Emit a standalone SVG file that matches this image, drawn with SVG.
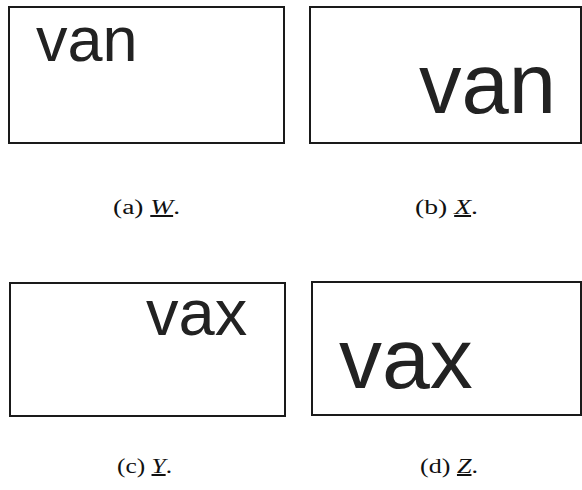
<svg xmlns="http://www.w3.org/2000/svg" width="582" height="490" viewBox="0 0 582 490">
<style>
.box{fill:#fff;stroke:#1a1a1a;stroke-width:2}
.word{font-family:"Liberation Sans",Arial,sans-serif;fill:#222}
.cap{font-family:"Liberation Serif","Times New Roman",serif;font-size:20px;fill:#111}
.ul{text-decoration:underline;font-style:italic}
</style>
<rect width="582" height="490" fill="#fff"/>
<g id="panel-a">
<rect class="box" x="9" y="7" width="275" height="136"/>
<text class="word" x="36" y="61" font-size="63">van</text>
<text class="cap" x="113" y="214" textLength="67" lengthAdjust="spacingAndGlyphs">(a) <tspan class="ul">W</tspan>.</text>
</g>
<g id="panel-b">
<rect class="box" x="310" y="7" width="271" height="136"/>
<text class="word" x="419" y="113" font-size="85">van</text>
<text class="cap" x="415" y="214" textLength="63" lengthAdjust="spacingAndGlyphs">(b) <tspan class="ul">X</tspan>.</text>
</g>
<g id="panel-c">
<rect class="box" x="10" y="283" width="275" height="133"/>
<text class="word" x="146" y="335" font-size="65">vax</text>
<text class="cap" x="117" y="473" textLength="55" lengthAdjust="spacingAndGlyphs">(c) <tspan class="ul">Y</tspan>.</text>
</g>
<g id="panel-d">
<rect class="box" x="312" y="282" width="269" height="133"/>
<text class="word" x="339" y="388" font-size="86">vax</text>
<text class="cap" x="420" y="473" textLength="58" lengthAdjust="spacingAndGlyphs">(d) <tspan class="ul">Z</tspan>.</text>
</g>
<g id="connectors"></g>
</svg>
